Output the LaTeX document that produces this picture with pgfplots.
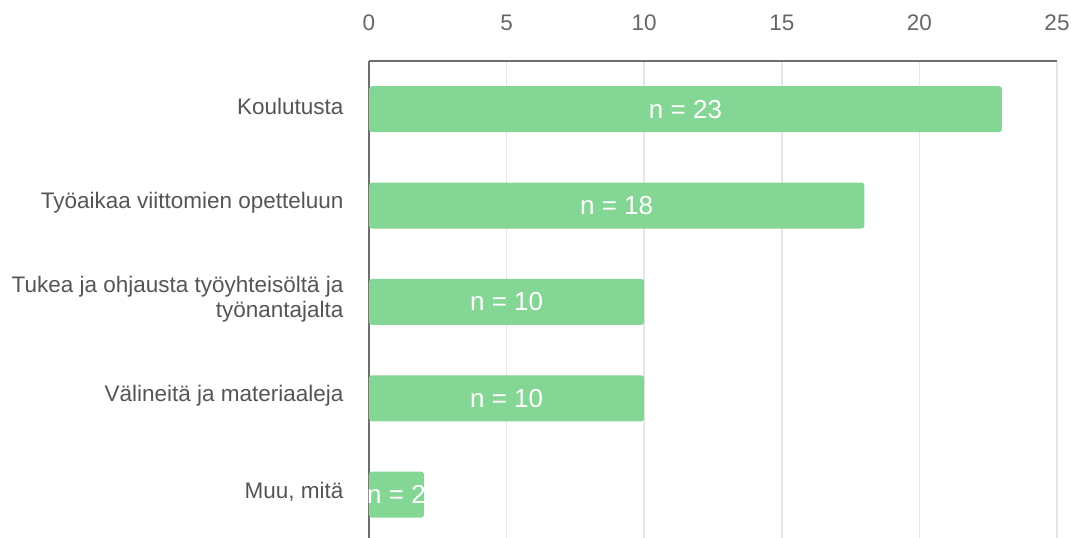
\documentclass[border=0pt]{standalone}
\usepackage{pgfplots}
\usepackage{pgfplotstable}
\usepackage{fontspec}
\setmainfont{Liberation Sans}
\pgfplotsset{compat=1.18}
\definecolor{barg}{RGB}{132,214,148}
\definecolor{tickc}{RGB}{102,102,102}
\definecolor{labc}{RGB}{85,85,85}
\definecolor{gridc}{RGB}{230,230,230}
\definecolor{axc}{RGB}{110,110,110}
\pgfplotstableread{
idx v
0 23
1 18
2 10
3 10
4 2
}\datatable
\begin{document}
\begin{tikzpicture}
\useasboundingbox (0,0) rectangle (1071pt,538pt);
\begin{axis}[
 at={(369pt,0pt)}, anchor=south west,
 scale only axis, width=688pt, height=477pt,
 xbar, bar width=46pt,
 xmin=0, xmax=25, ymin=-0.5, ymax=4.45, y dir=reverse,
 axis x line*=top, axis y line*=left,
 axis line style={axc, line width=1.5pt, -},
 xtick={0,5,...,25}, ytick={0,...,4},
 yticklabels={Koulutusta, Työaikaa viittomien opetteluun, {Tukea ja ohjausta työyhteisöltä ja\\työnantajalta}, Välineitä ja materiaaleja, {Muu, mitä}},
 major tick length=0pt,
 xmajorgrids, grid style={gridc, line width=1.5pt},
 xticklabel style={tickc, font=\fontsize{22.5}{25}\selectfont, yshift=27pt},
 yticklabel style={labc, font=\fontsize{22.5}{25}\selectfont, align=right, xshift=-22pt, yshift=3pt},
 /pgf/number format/assume math mode=true,
]
\addplot[fill=barg, draw=none, rounded corners=3pt, bar shift=0pt] table[x=v, y=idx]{\datatable};
\addplot[sharp plot, draw=none, point meta=explicit,
  nodes near coords={n = \pgfmathprintnumber[assume math mode=true]{\pgfplotspointmeta}},
  every node near coord/.append style={white, font=\fontsize{26}{26}\selectfont, anchor=center}]
  table[x expr=\thisrow{v}/2, y=idx, meta=v]{\datatable};
\end{axis}
\end{tikzpicture}
\end{document}
